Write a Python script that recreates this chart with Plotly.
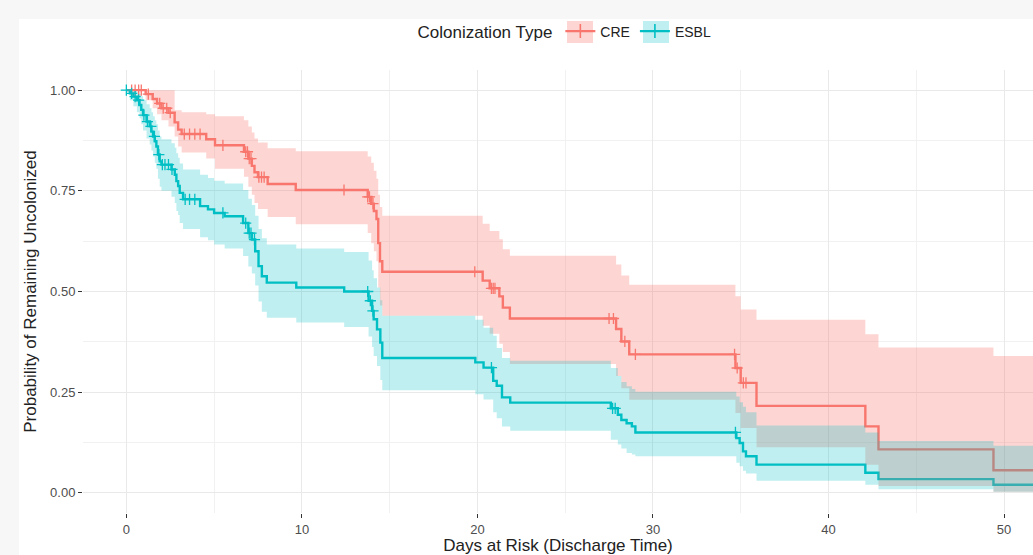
import numpy as np
import plotly.graph_objects as go

# ---------------- data ----------------
followup_end = 52.0

cre_time  = [0.0, 1.1, 1.5, 1.75, 2.0, 2.4, 2.75, 2.95, 3.15, 4.55, 5.05, 6.7, 6.95, 7.15, 7.3, 7.5,
             8.05, 9.65, 13.75, 13.95, 14.1, 14.25, 14.35, 14.45, 14.58, 20.3, 20.7, 21.25, 21.45,
             21.85, 27.9, 28.2, 28.65, 34.7, 35.0, 35.9, 42.1, 42.85, 49.4]
cre_surv  = [1.000, 0.990, 0.978, 0.967, 0.955, 0.944, 0.920, 0.902, 0.891, 0.878, 0.863, 0.847, 0.830,
             0.812, 0.796, 0.784, 0.767, 0.752, 0.735, 0.718, 0.700, 0.680, 0.620, 0.575, 0.549, 0.527,
             0.508, 0.488, 0.460, 0.433, 0.407, 0.376, 0.344, 0.310, 0.273, 0.216, 0.165, 0.108, 0.056]
cre_upper = [1.000, 1.000, 1.000, 1.000, 1.000, 1.000, 0.950, 0.950, 0.945, 0.940, 0.935, 0.925, 0.910,
             0.895, 0.880, 0.870, 0.856, 0.848, 0.835, 0.820, 0.800, 0.780, 0.740, 0.710, 0.688, 0.668,
             0.650, 0.630, 0.605, 0.589, 0.567, 0.540, 0.517, 0.488, 0.455, 0.430, 0.394, 0.361, 0.340]
cre_lower = [1.000, 0.975, 0.955, 0.940, 0.925, 0.910, 0.885, 0.860, 0.845, 0.830, 0.805, 0.785, 0.760,
             0.740, 0.720, 0.705, 0.685, 0.667, 0.645, 0.620, 0.600, 0.575, 0.510, 0.465, 0.440, 0.415,
             0.395, 0.370, 0.350, 0.320, 0.290, 0.260, 0.231, 0.198, 0.161, 0.113, 0.070, 0.017, 0.003]
cre_censor = [0.3, 0.5, 0.7, 0.85, 1.25, 1.9, 2.1, 2.3, 2.5, 3.3, 3.6, 3.9, 4.2, 5.5, 6.8, 6.9, 7.0,
              7.1, 7.55, 7.7, 7.85, 12.4, 13.75, 13.85, 14.05, 19.85, 20.8, 20.9, 21.0, 27.5, 27.75,
              28.4, 29.0, 34.65, 34.8, 35.15, 35.3]

esbl_time  = [0.0, 0.2, 0.4, 0.6, 0.75, 0.85, 0.95, 1.15, 1.33, 1.43, 1.52, 1.62, 1.71, 1.8, 1.9, 2.0,
              2.57, 2.76, 2.85, 2.95, 3.04, 3.23, 4.2, 4.65, 5.0, 5.6, 6.65, 6.95, 7.15, 7.34, 7.53,
              7.72, 8.0, 9.68, 12.41, 13.8, 14.0, 14.09, 14.28, 14.47, 14.58, 19.88, 20.35, 20.9,
              21.1, 21.4, 21.87, 27.6, 28.0, 28.2, 28.5, 28.8, 29.0, 34.75, 34.94, 35.13, 35.3, 35.9,
              42.1, 42.85, 49.4]
esbl_surv  = [1.000, 0.992, 0.984, 0.975, 0.963, 0.951, 0.938, 0.922, 0.910, 0.897, 0.885, 0.873, 0.860,
              0.840, 0.823, 0.815, 0.803, 0.790, 0.774, 0.762, 0.745, 0.729, 0.712, 0.704, 0.695, 0.687,
              0.670, 0.645, 0.629, 0.600, 0.563, 0.538, 0.522, 0.510, 0.500, 0.477, 0.452, 0.431, 0.406,
              0.373, 0.335, 0.324, 0.311, 0.278, 0.266, 0.237, 0.224, 0.210, 0.194, 0.181, 0.173, 0.165,
              0.150, 0.136, 0.124, 0.103, 0.091, 0.070, 0.050, 0.034, 0.020]
esbl_upper = [1.000, 1.000, 1.000, 0.995, 0.990, 0.985, 0.975, 0.965, 0.955, 0.945, 0.935, 0.925, 0.915,
              0.900, 0.885, 0.878, 0.868, 0.857, 0.843, 0.832, 0.818, 0.803, 0.790, 0.782, 0.775, 0.768,
              0.752, 0.730, 0.715, 0.688, 0.655, 0.632, 0.617, 0.607, 0.598, 0.577, 0.553, 0.533, 0.510,
              0.478, 0.440, 0.430, 0.410, 0.390, 0.360, 0.335, 0.328, 0.310, 0.290, 0.275, 0.265, 0.258,
              0.251, 0.239, 0.225, 0.214, 0.200, 0.167, 0.150, 0.129, 0.117]
esbl_lower = [1.000, 0.975, 0.960, 0.945, 0.930, 0.915, 0.900, 0.880, 0.865, 0.850, 0.835, 0.820, 0.805,
              0.780, 0.760, 0.750, 0.735, 0.720, 0.700, 0.690, 0.670, 0.655, 0.635, 0.627, 0.617, 0.607,
              0.588, 0.562, 0.545, 0.515, 0.475, 0.450, 0.435, 0.423, 0.412, 0.388, 0.362, 0.340, 0.315,
              0.280, 0.255, 0.245, 0.232, 0.200, 0.185, 0.165, 0.154, 0.132, 0.120, 0.110, 0.099, 0.095,
              0.091, 0.075, 0.066, 0.055, 0.048, 0.030, 0.020, 0.009, 0.003]
esbl_censor = [0.0, 0.3, 0.5, 0.7, 1.0, 1.2, 1.4, 1.6, 1.85, 2.05, 2.2, 2.4, 2.6, 3.35, 3.6, 3.9, 5.5,
               6.8, 7.0, 7.1, 7.3, 13.75, 13.9, 14.05, 20.8, 27.7, 27.85, 34.7]

groups = ["CRE", "ESBL"]
line_colors = {"CRE": "#F8766D", "ESBL": "#00BFC4"}
fill_colors = {"CRE": "rgba(248,118,109,0.30)", "ESBL": "rgba(0,191,196,0.25)"}

x_ticks = [0, 10, 20, 30, 40, 50]
y_ticks = [0.0, 0.25, 0.5, 0.75, 1.0]


def step_xy(t, v, t_end):
    xs, ys = [], []
    for i in range(len(t)):
        nxt = t[i + 1] if i + 1 < len(t) else t_end
        xs += [t[i], nxt]
        ys += [v[i], v[i]]
    return xs, ys


series = {
    "CRE": (cre_time, cre_surv, cre_upper, cre_lower, cre_censor),
    "ESBL": (esbl_time, esbl_surv, esbl_upper, esbl_lower, esbl_censor),
}

fig = go.Figure()

# survival step lines (drawn first, ribbons overlay them like ggplot)
for g in groups:
    t, s, up, lo, cen = series[g]
    xs, ys = step_xy(t, s, followup_end)
    fig.add_trace(go.Scatter(x=xs, y=ys, mode="lines", line=dict(color=line_colors[g], width=2.4),
                             showlegend=False, hoverinfo="skip"))

# confidence ribbons
for g in groups:
    t, s, up, lo, cen = series[g]
    xu, yu = step_xy(t, up, followup_end)
    xl, yl = step_xy(t, lo, followup_end)
    fig.add_trace(go.Scatter(x=xu + xl[::-1], y=yu + yl[::-1], mode="lines", fill="toself",
                             fillcolor=fill_colors[g], line=dict(width=0), showlegend=False,
                             hoverinfo="skip"))

# censor marks
for g in groups:
    t, s, up, lo, cen = series[g]
    ta = np.array(t)
    sa = np.array(s)
    idx = np.searchsorted(ta, np.array(cen), side="right") - 1
    fig.add_trace(go.Scatter(x=cen, y=sa[idx], mode="markers",
                             marker=dict(symbol="cross-thin", size=8,
                                         line=dict(color=line_colors[g], width=1.3)),
                             showlegend=False, hoverinfo="skip"))

# legend entries
for g in groups:
    fig.add_trace(go.Scatter(x=[None], y=[None], mode="lines+markers", name=g,
                             line=dict(color=line_colors[g], width=2.4),
                             marker=dict(symbol="cross-thin", size=10,
                                         line=dict(color=line_colors[g], width=1.6))))

W, H = 1033, 555
ml, mr, mt, mb = 83, 0, 70, 42
pw, ph = W - ml - mr, H - mt - mb

# white panel with light grey strip at top/left (page background)
fig.add_shape(type="rect", xref="paper", yref="paper",
              x0=(19 - ml) / pw, x1=1.02, y0=-(mb + 5) / ph, y1=1 + (mt - 19) / ph,
              fillcolor="white", line=dict(width=0), layer="below")

# legend key background boxes (ggplot-style filled keys)
for g, (px0, px1) in zip(groups, [(567, 593), (643, 669)]):
    fig.add_shape(type="rect", xref="paper", yref="paper",
                  x0=(px0 - ml) / pw, x1=(px1 - ml) / pw,
                  y0=1 + (mt - 43) / ph, y1=1 + (mt - 21) / ph,
                  fillcolor=fill_colors[g], line=dict(width=0), layer="above")

font_family = "Liberation Sans, Arial, Helvetica, sans-serif"
fig.update_layout(
    width=W, height=H,
    margin=dict(l=ml, r=mr, t=mt, b=mb, pad=0),
    paper_bgcolor="#f7f7f7", plot_bgcolor="white",
    font=dict(family=font_family, color="#222222"),
    showlegend=True,
    legend=dict(orientation="h", x=(566 - ml) / pw, xanchor="center", y=1 + (mt - 32) / ph,
                yanchor="middle", bgcolor="rgba(0,0,0,0)",
                title=dict(text="Colonization Type", side="left", font=dict(size=17, color="#222222")),
                font=dict(size=14, color="#222222"), itemwidth=30),
    xaxis=dict(range=[-2.47, (W - 126.5) / 17.55],
               tickvals=x_ticks, ticktext=[str(v) for v in x_ticks],
               showgrid=True, gridcolor="#e9e9e9", gridwidth=1.1, zeroline=False, showline=False,
               ticks="outside", ticklen=4, tickwidth=1, tickcolor="#333333",
               tickfont=dict(size=13, color="#4d4d4d"),
               minor=dict(dtick=5, tick0=0, showgrid=True, gridcolor="#f1f1f1", gridwidth=0.8, ticks=""),
               title=dict(text="Days at Risk (Discharge Time)", font=dict(size=17, color="#222222"), standoff=3),
               automargin=False),
    yaxis=dict(range=[-0.05, 1.05], tickvals=y_ticks, ticktext=["%.2f" % v for v in y_ticks],
               showgrid=True, gridcolor="#e9e9e9", gridwidth=1.1, zeroline=False, showline=False,
               ticks="outside", ticklen=4, tickwidth=1, tickcolor="#333333",
               tickfont=dict(size=13, color="#4d4d4d"),
               minor=dict(dtick=0.125, tick0=0, showgrid=True, gridcolor="#f1f1f1", gridwidth=0.8, ticks=""),
               title=dict(text="Probability of Remaining Uncolonized", font=dict(size=17, color="#222222"), standoff=9),
               automargin=False),
)

fig.write_html("out.html", config={"displayModeBar": False},
               post_script="document.body.style.margin='0';document.body.style.padding='0';")
